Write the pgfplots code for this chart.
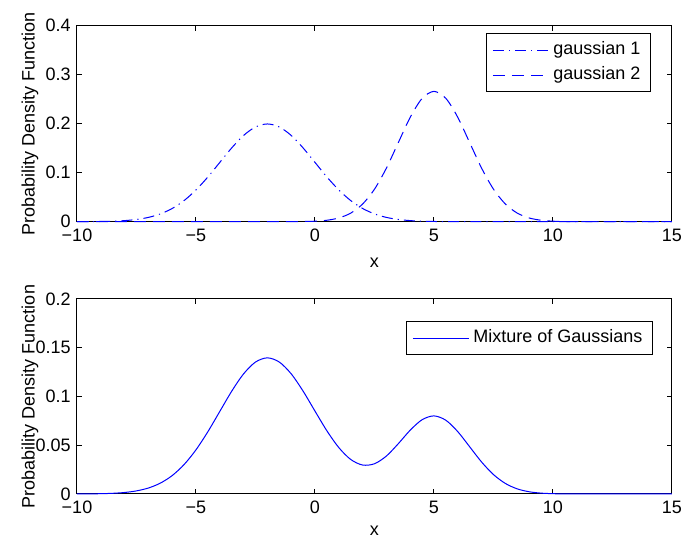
\documentclass[border=0pt]{standalone}
\usepackage{fontspec}
\setmainfont{Liberation Sans}
\usepackage{pgfplots}
\pgfplotsset{compat=1.18}
\definecolor{mblue}{rgb}{0,0,1}
\begin{document}
\fontsize{9}{11}\selectfont
\begin{tikzpicture}
\pgfplotsset{
  every axis/.append style={
    scale only axis, width=297.5pt,
    xmin=-10, xmax=15,
    clip=false,
    xtick={-10,-5,0,5,10,15},
    xticklabels={−10,−5,0,5,10,15},
    tick align=inside,
    major tick length=2.5pt,
    tick style={black, line width=0.5pt},
    axis line style={line width=0.5pt},
    font=\fontsize{9}{11}\selectfont,
    ticklabel style={font=\fontsize{9}{11}\selectfont},
    xticklabel style={yshift=-0.5pt},
    xlabel={x},
    ylabel={Probability Density Function},
    ylabel style={at={(axis description cs:-0.079,0.5)}, anchor=center},
    xlabel style={at={(axis description cs:0.5,-0.21)}, anchor=center},
    legend cell align=left,
    legend image code/.code={\draw[#1] (0pt,0pt) -- (28pt,0pt);},
    legend style={draw=black, line width=0.5pt, fill=white, inner xsep=3pt, inner ysep=2pt,
      font=\fontsize{9}{11}\selectfont,
      nodes={text height=6.5pt, text depth=2pt, inner xsep=2pt, inner ysep=2pt}},
  }
}
\begin{axis}[name=top, at={(0,136.15pt)}, anchor=south west,
  height=98pt, ymin=0, ymax=0.4,
  ytick={0,0.1,0.2,0.3,0.4}, yticklabels={0,0.1,0.2,0.3,0.4},
  legend style={at={(axis description cs:0.9647,0.961)}, anchor=north east}]
\addplot[mblue, line width=0.5pt, smooth, dash pattern=on 5.5pt off 2.5pt on 0.6pt off 2.5pt] coordinates {
(-10,0.00007)(-9.5,0.00018)(-9,0.00044)(-8.5,0.00101)(-8,0.00222)(-7.5,0.00455)(-7,0.00876)(-6.5,0.01587)(-6,0.02700)(-5.5,0.04314)(-5,0.06476)(-4.5,0.09132)(-4,0.12099)(-3.5,0.15057)(-3,0.17603)(-2.5,0.19333)(-2,0.19947)(-1.5,0.19333)(-1,0.17603)(-0.5,0.15057)(0,0.12099)(0.5,0.09132)(1,0.06476)(1.5,0.04314)(2,0.02700)(2.5,0.01587)(3,0.00876)(3.5,0.00455)(4,0.00222)(4.5,0.00101)(5,0.00044)(5.5,0.00018)(6,0.00007)(6.5,0.00002)(7,0.00001)(8,0)(9,0)(10,0)(11,0)(12,0)(13,0)(14,0)(15,0)};
\addlegendentry{gaussian 1}
\addplot[mblue, line width=0.5pt, smooth, dash pattern=on 6pt off 3.5pt] coordinates {
(-10,0)(-9,0)(-8,0)(-7,0)(-6,0)(-5,0)(-4,0)(-3,0)(-2,0)(-1.5,0.00002)(-1,0.00009)(-0.5,0.00032)(0,0.00103)(0.5,0.00295)(1,0.00760)(1.5,0.01748)(2,0.03600)(2.5,0.06632)(3,0.10934)(3.5,0.16131)(4,0.21297)(4.5,0.25159)(5,0.26596)(5.5,0.25159)(6,0.21297)(6.5,0.16131)(7,0.10934)(7.5,0.06632)(8,0.03600)(8.5,0.01748)(9,0.00760)(9.5,0.00295)(10,0.00103)(10.5,0.00032)(11,0.00009)(11.5,0.00002)(12,0)(13,0)(14,0)(15,0)};
\addlegendentry{gaussian 2}
\end{axis}
\begin{axis}[name=bot, at={(0,0)}, anchor=south west,
  height=97.5pt, ymin=0, ymax=0.2,
  ytick={0,0.05,0.1,0.15,0.2}, yticklabels={0,0.05,0.1,0.15,0.2},
  xlabel style={at={(axis description cs:0.5,-0.19)}, anchor=center},
  legend style={at={(axis description cs:0.968,0.887)}, anchor=north east}]
\addplot[mblue, line width=0.5pt, smooth] coordinates {
(-10,0.00005)(-9.5,0.00013)(-9,0.00031)(-8.5,0.00071)(-8,0.00155)(-7.5,0.00319)(-7,0.00613)(-6.5,0.01111)(-6,0.01890)(-5.5,0.03020)(-5,0.04533)(-4.5,0.06392)(-4,0.08469)(-3.5,0.10540)(-3,0.12322)(-2.5,0.13533)(-2,0.13963)(-1.5,0.13534)(-1,0.12325)(-0.5,0.10550)(0,0.08500)(0.5,0.06481)(1,0.04761)(1.5,0.03544)(2,0.02970)(2.5,0.03101)(3,0.03893)(3.5,0.05158)(4,0.06544)(4.5,0.07619)(5,0.08010)(5.5,0.07561)(6,0.06394)(6.5,0.04840)(7,0.03280)(7.5,0.01990)(8,0.01080)(8.5,0.00524)(9,0.00228)(9.5,0.00089)(10,0.00031)(10.5,0.00010)(11,0.00003)(11.5,0.00001)(12,0)(13,0)(14,0)(15,0)};
\addlegendentry{Mixture of Gaussians}
\end{axis}
\pgfresetboundingbox
\path[use as bounding box] (-38.5pt,-23pt) rectangle (302pt,247pt);
\end{tikzpicture}
\end{document}
